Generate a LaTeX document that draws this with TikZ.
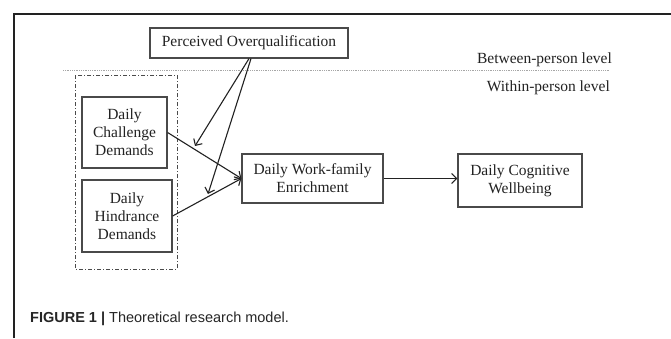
\documentclass[tikz,border=0pt]{standalone}
\usepackage{fontspec}
\setmainfont{Liberation Serif}
\newfontfamily\capfont{Liberation Sans}
\usetikzlibrary{arrows.meta,calc}
\definecolor{txt}{HTML}{222222}
\definecolor{boxline}{HTML}{4a4a4a}
\tikzset{
  var/.style={draw=boxline, line width=1.2pt, rectangle, align=center, text=txt,
    font=\fontsize{15.5}{18}\selectfont, inner sep=0pt},
  conn/.style={draw=txt, line width=1.1pt, -{Straight Barb[length=5pt,width=10pt,line width=1.1pt]}},
  lvl/.style={text=txt, font=\fontsize{15.5}{18}\selectfont, inner sep=0pt},
}
\begin{document}
\begin{tikzpicture}[x=1pt,y=-1pt]
\useasboundingbox (0,0) rectangle (671,338);
\fill[white] (0,0) rectangle (671,338);
% outer frame
\draw[line width=1.3pt, draw=txt] (14,338) -- (14,14) -- (671,14);
% level separator
\draw[densely dotted, draw=gray!70, line width=0.8pt] (63,70) -- (610,70);
\node[lvl, anchor=base east] (btw) at (612,63) {Between-person level};
\node[lvl, anchor=base east] (wth) at (610,91) {Within-person level};
% group
\draw[dash pattern=on 4pt off 2pt on 1pt off 2pt, draw=boxline, line width=1pt] (75,75) rectangle (177,269);
% boxes
\node[var, minimum width=198pt, minimum height=30pt] (po) at (249,43) {Perceived Overqualification};
\node[var, minimum width=85pt, minimum height=71pt] (dcd) at (124.5,132.5) {Daily\\Challenge\\Demands};
\node[var, minimum width=90pt, minimum height=72pt] (dhd) at (127,216) {Daily\\Hindrance\\Demands};
\node[var, minimum width=141pt, minimum height=49pt] (wfe) at (312.5,178.5) {Daily Work-family\\Enrichment};
\node[var, minimum width=124pt, minimum height=53pt] (dcw) at (520,180.5) {Daily Cognitive\\Wellbeing};
% connectors
\draw[conn] (dcd.east) -- (wfe.west);
\draw[conn] (dhd.east) -- (wfe.west);
\draw[conn] (wfe.east) -- (dcw.west |- wfe.east);
\coordinate (m1) at (195,146);
\coordinate (m2) at (208,194);
\draw[conn] (po.south) -- (m1);
\draw[conn] ([xshift=2pt]po.south) -- (m2);
% caption
\node[anchor=base west, inner sep=0pt, text=black!85, font=\capfont\fontsize{14.5}{17}\selectfont] (cap) at (30,322)
  {\textbf{FIGURE 1 |} Theoretical research model.};
\end{tikzpicture}
\end{document}
